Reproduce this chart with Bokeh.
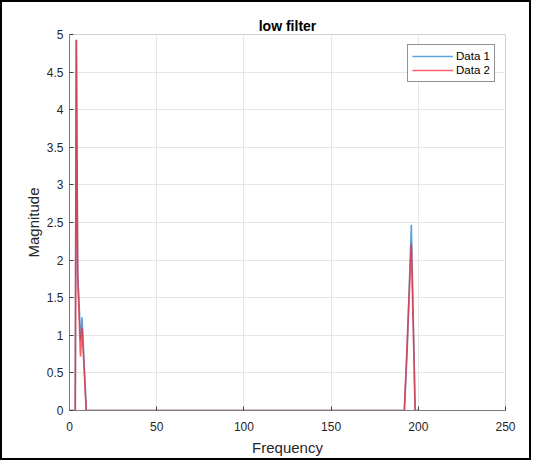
from bokeh.plotting import figure
from bokeh.models import Legend, LegendItem, FixedTicker, CustomJSTickFormatter
from bokeh.embed import file_html
from bokeh.resources import INLINE

# ---- data ----
freq = [0.0, 3.3, 3.9, 4.7, 5.5, 6.3, 7.2, 9.6, 192.0, 193.6, 196.0, 198.2, 200.0]
data1 = [0.0, 0.0, 4.93, 1.80, 1.43, 0.94, 1.24, 0.0, 0.0, 0.78, 2.47, 0.0, 0.0]
data2 = [0.0, 0.0, 4.93, 1.80, 1.26, 0.72, 1.10, 0.0, 0.0, 0.89, 2.22, 0.0, 0.0]
x_ticks = [0, 50, 100, 150, 200, 250]
y_ticks = [0, 0.5, 1, 1.5, 2, 2.5, 3, 3.5, 4, 4.5, 5]
series_names = ["Data 1", "Data 2"]
title_text = "low filter"
x_label = "Frequency"
y_label = "Magnitude"

FONT = "Liberation Sans"
TXT = "#262626"

p = figure(frame_width=436, frame_height=376,
           min_border_left=67, min_border_right=24,
           min_border_top=32, min_border_bottom=45,
           x_range=(0, 250), y_range=(0, 5),
           output_backend="svg", toolbar_location=None,
           title=title_text)
p.styles = {"border": "2px solid black"}

p.title.align = "center"
p.title.text_font = FONT
p.title.text_font_size = "14px"
p.title.text_font_style = "bold"
p.title.text_color = "#000000"
p.title.standoff = 2
p.title.offset = 0

p.background_fill_color = "white"
p.outline_line_color = "#cfcfcf"
p.grid.grid_line_color = "#e6e6e6"
p.grid.grid_line_width = 1

p.xaxis.ticker = FixedTicker(ticks=x_ticks)
p.yaxis.ticker = FixedTicker(ticks=y_ticks)
p.yaxis.formatter = CustomJSTickFormatter(code="return String(tick);")
p.xaxis.formatter = CustomJSTickFormatter(code="return String(tick);")

for ax in (p.xaxis[0], p.yaxis[0]):
    ax.axis_line_color = "#7a7a7a"
    ax.major_tick_line_color = "#404040"
    ax.major_tick_in = 4
    ax.major_tick_out = 0
    ax.minor_tick_line_color = None
    ax.major_label_text_font = FONT
    ax.major_label_text_font_size = "12px"
    ax.major_label_text_color = TXT
    ax.axis_label_text_font = FONT
    ax.axis_label_text_font_size = "15px"
    ax.axis_label_text_font_style = "normal"
    ax.axis_label_text_color = TXT

p.xaxis.axis_label = x_label
p.yaxis.axis_label = y_label
p.xaxis.major_label_standoff = 11
p.xaxis.axis_label_standoff = 5
p.yaxis.major_label_standoff = 6
p.yaxis.axis_label_standoff = 2

r1 = p.line(freq, data1, line_color="#2a82d0", line_alpha=0.75, line_width=1.6)
r2 = p.line(freq, data2, line_color="#f5262c", line_alpha=0.72, line_width=1.7)

legend = Legend(items=[LegendItem(label=series_names[0], renderers=[r1]),
                       LegendItem(label=series_names[1], renderers=[r2])],
                location=(338, 328))
legend.label_text_font = FONT
legend.label_text_font_size = "11.5px"
legend.label_text_color = "#000000"
legend.glyph_width = 41
legend.glyph_height = 14
legend.label_height = 14
legend.label_standoff = 3
legend.spacing = 0
legend.padding = 4
legend.margin = 0
legend.border_line_color = "#262626"
legend.border_line_width = 1
legend.background_fill_color = "white"
legend.background_fill_alpha = 1
p.add_layout(legend)

open("out.html", "w").write(file_html(p, INLINE))
